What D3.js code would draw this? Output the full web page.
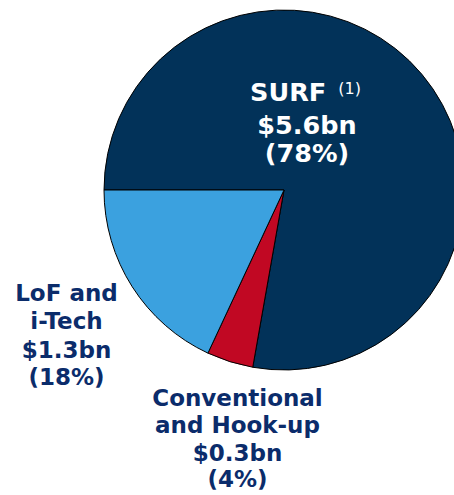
<!DOCTYPE html>
<html>
<head>
<meta charset="utf-8">
<script src="https://cdn.jsdelivr.net/npm/d3@7"></script>
<style>
  html, body { margin: 0; padding: 0; background: #ffffff; }
  svg { display: block; }
</style>
</head>
<body>
<svg id="chart" width="454" height="495"></svg>
<script>
// ---- data ----
const categories = ["SURF", "Conventional and Hook-up", "LoF and i-Tech"];
const values = [5.6, 0.3, 1.3];            // $bn
const shares = [78, 4, 18];                // %
const colors = ["#023259", "#C10823", "#3BA1DF"];
const labelLines = [
  ["SURF", "$5.6bn", "(78%)"],
  ["Conventional", "and Hook-up", "$0.3bn", "(4%)"],
  ["LoF and", "i-Tech", "$1.3bn", "(18%)"]
];

// ---- layout ----
const svg = d3.select("#chart");
const cx = 284, cy = 190, R = 180;

const pie = d3.pie().sort(null).value(d => d)
  .startAngle(-Math.PI / 2).endAngle(3 * Math.PI / 2);
const arc = d3.arc().innerRadius(0).outerRadius(R);

const g = svg.append("g").attr("transform", `translate(${cx},${cy})`);
g.selectAll("path").data(pie(values)).join("path")
  .attr("d", arc)
  .attr("fill", (d, i) => colors[i])
  .attr("stroke", "#000")
  .attr("stroke-width", 1)
  .attr("stroke-linejoin", "round");

const font = "'DejaVu Sans', Verdana, sans-serif";

const labelPos = [
  { x: 307, ys: [100.5, 134.3, 161.8], color: "#ffffff", fs: 25.5 },
  { x: 237.5, ys: [405.5, 433.3, 460.5, 486.8], color: "#0B2C6B", fs: 23 },
  { x: 66.5, ys: [301, 329.3, 357.7, 384.6], color: "#0B2C6B", fs: 23 }
];

labelLines.forEach((lines, i) => {
  const p = labelPos[i];
  lines.forEach((line, j) => {
    const t = svg.append("text")
      .attr("x", (i === 0 && j === 0) ? p.x - 1.5 : p.x)
      .attr("y", p.ys[j])
      .attr("text-anchor", "middle")
      .attr("font-family", font)
      .attr("font-weight", "bold")
      .attr("font-size", p.fs)
      .attr("fill", p.color);
    t.append("tspan").text(line);
    if (i === 0 && j === 0) {
      t.append("tspan")
        .attr("font-size", 16)
        .attr("font-weight", "normal")
        .attr("dx", 12)
        .attr("dy", -6.5)
        .text("(1)");
    }
  });
});
</script>
</body>
</html>
